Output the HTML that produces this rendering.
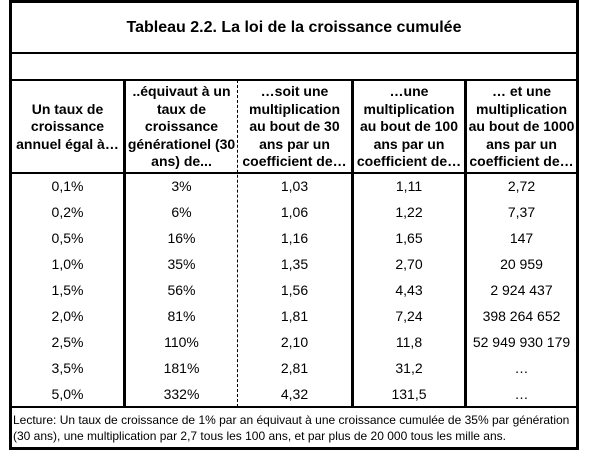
<!DOCTYPE html>
<html><head><meta charset="utf-8"><style>
body{margin:0;width:600px;height:451px;background:#fff;position:relative;font-family:"Liberation Sans",Arial,sans-serif;color:#000;overflow:hidden}
.a{position:absolute}
.h{background:#000}
.t{position:absolute;text-align:center;font-size:14px}
.hd{position:absolute;text-align:center;font-weight:bold;font-size:14px;line-height:17.5px;display:flex;align-items:center;justify-content:center;top:81px;height:92px;white-space:nowrap}
</style></head><body>
<div class="a h" style="left:9px;top:0;width:3px;height:450px"></div>
<div class="a h" style="left:576px;top:0;width:3px;height:450px"></div>
<div class="a h" style="left:9px;top:0;width:570px;height:3px"></div>
<div class="a h" style="left:9px;top:447px;width:570px;height:3px"></div>
<div class="a h" style="left:9px;top:52px;width:570px;height:2px"></div>
<div class="a h" style="left:9px;top:79px;width:570px;height:2px"></div>
<div class="a h" style="left:9px;top:172px;width:570px;height:2px"></div>
<div class="a h" style="left:9px;top:406px;width:570px;height:2px"></div>
<div class="a h" style="left:123px;top:80px;width:3px;height:327px"></div>
<div class="a" style="left:237px;top:80px;height:327px;border-left:1px dashed #000"></div>
<div class="a h" style="left:351px;top:80px;width:3px;height:327px"></div>
<div class="a h" style="left:464px;top:80px;width:3px;height:327px"></div>
<div class="a" style="left:12px;top:19px;width:564px;text-align:center;font-weight:bold;font-size:16px">Tableau 2.2. La loi de la croissance cumulée</div>
<div class="hd" style="left:12px;width:111px">Un taux de<br>croissance<br>annuel égal à…</div>
<div class="hd" style="left:126px;width:111px">..équivaut à un<br>taux de<br>croissance<br>générationel (30<br>ans) de...</div>
<div class="hd" style="left:238px;width:113px">…soit une<br>multiplication<br>au bout de 30<br>ans par un<br>coefficient de…</div>
<div class="hd" style="left:354px;width:110px">…une<br>multiplication<br>au bout de 100<br>ans par un<br>coefficient de…</div>
<div class="hd" style="left:467px;width:109px">… et une<br>multiplication<br>au bout de 1000<br>ans par un<br>coefficient de…</div>
<div class="a" style="left:13px;top:412px;width:562px;font-size:12px;line-height:16px">Lecture: Un taux de croissance de 1% par an équivaut à une croissance cumulée de 35% par génération (30 ans), une multiplication par 2,7 tous les 100 ans, et par plus de 20 000 tous les mille ans.</div>
<div class="t" style="left:12px;width:111px;top:173px;line-height:26px">0,1%<br>0,2%<br>0,5%<br>1,0%<br>1,5%<br>2,0%<br>2,5%<br>3,5%<br>5,0%</div>
<div class="t" style="left:126px;width:111px;top:173px;line-height:26px">3%<br>6%<br>16%<br>35%<br>56%<br>81%<br>110%<br>181%<br>332%</div>
<div class="t" style="left:238px;width:113px;top:173px;line-height:26px">1,03<br>1,06<br>1,16<br>1,35<br>1,56<br>1,81<br>2,10<br>2,81<br>4,32</div>
<div class="t" style="left:354px;width:110px;top:173px;line-height:26px">1,11<br>1,22<br>1,65<br>2,70<br>4,43<br>7,24<br>11,8<br>31,2<br>131,5</div>
<div class="t" style="left:467px;width:109px;top:173px;line-height:26px">2,72<br>7,37<br>147<br>20 959<br>2 924 437<br>398 264 652<br>52 949 930 179<br>…<br>…</div>
</body></html>
